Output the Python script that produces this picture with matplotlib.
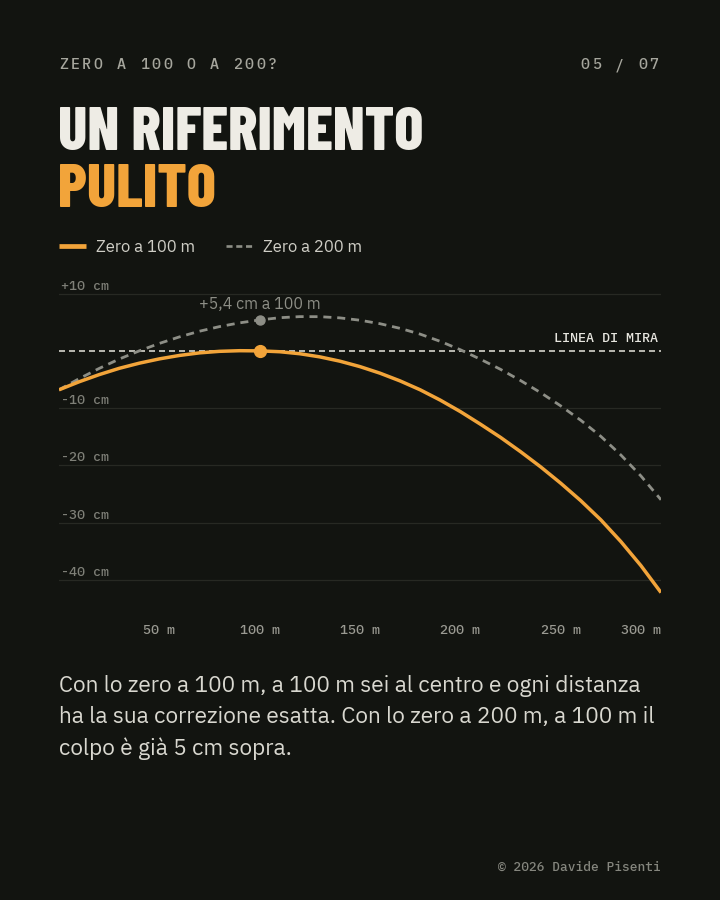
import matplotlib
matplotlib.use("Agg")
import matplotlib.pyplot as plt

# traiettorie (cm rispetto alla linea di mira)
distance_m = [0, 10, 20, 30, 40, 50, 60, 70, 80, 90, 100, 110, 120, 130, 140, 150,
              160, 170, 180, 190, 200, 210, 220, 230, 240, 250, 260, 270, 280, 290, 300]
zero_100_cm = [-6.8, -5.4, -4.15, -3.05, -2.15, -1.4, -0.8, -0.35, -0.08, 0.03, 0.0,
               -0.15, -0.5, -1.05, -1.8, -2.75, -3.9, -5.25, -6.8, -8.6, -10.6,
               -12.8, -15.1, -17.6, -20.25, -23.1, -26.15, -29.5, -33.3, -37.5, -42.2]
zero_200_cm = [-6.8, -4.86, -3.07, -1.43, 0.0, 1.3, 2.44, 3.43, 4.24, 4.89, 5.4,
               5.79, 5.98, 5.97, 5.76, 5.35, 4.74, 3.93, 2.92, 1.66, 0.2,
               -1.46, -3.22, -5.18, -7.29, -9.6, -12.11, -14.92, -18.18, -21.84, -26.0]
series_labels = ["Zero a 100 m", "Zero a 200 m"]

y_ticks = [10, -10, -20, -30, -40]
y_tick_labels = ["+10 cm", "-10 cm", "-20 cm", "-30 cm", "-40 cm"]
x_ticks = [50, 100, 150, 200, 250, 300]
x_tick_labels = ["50 m", "100 m", "150 m", "200 m", "250 m", "300 m"]

marker_x = 100
marker_label = "+5,4 cm a 100 m"
sight_label = "LINEA DI MIRA"

kicker = "ZERO A 100 O A 200?"
page = "05 / 07"
title_1 = "UN RIFERIMENTO"
title_2 = "PULITO"
body_lines = ["Con lo zero a 100 m, a 100 m sei al centro e ogni distanza",
              "ha la sua correzione esatta. Con lo zero a 200 m, a 100 m il",
              "colpo è già 5 cm sopra."]
footer = "© 2026 Davide Pisenti"

BG = "#121410"
ORANGE = "#f2a43a"
WHITE = "#eeece5"
GREY_LINE = "#8d8e86"
SIGHT = "#d5d5cc"
GRID = "#272923"
MONO = ["IBM Plex Mono", "DejaVu Sans Mono"]
SANS = ["IBM Plex Sans", "Roboto", "DejaVu Sans"]
DISPLAY = ["Barlow Condensed", "DejaVu Sans"]

W, H = 720, 900


def fx(px):
    return px / W


def fy(py):
    return 1 - py / H


fig = plt.figure(figsize=(7.2, 9), dpi=100, facecolor=BG)
renderer = fig.canvas.get_renderer()


def fit_width(txt, width_px):
    w = txt.get_window_extent(renderer).width
    txt.set_fontsize(txt.get_fontsize() * width_px / w)


def tracked(x, y, s, step, **kw):
    for i, ch in enumerate(s):
        fig.text(fx(x + i * step), fy(y), ch, ha="left", va="center", **kw)


# intestazione
tracked(59, 65, kicker, 11.6, family=MONO, weight="medium", fontsize=10.8, color="#a6a69d")
tracked(580, 65, page, 11.6, family=MONO, weight="medium", fontsize=10.8, color="#a6a69d")

t1 = fig.text(fx(58), fy(150), title_1, family=DISPLAY, weight=800, fontsize=40,
              color=WHITE, va="baseline")
fit_width(t1, 366)
fig.text(fx(58), fy(206.7), title_2, family=DISPLAY, weight=800,
         fontsize=t1.get_fontsize(), color=ORANGE, va="baseline")

# grafico
ax = fig.add_axes([fx(59), fy(600), 602 / W, (600 - 281) / H])
ax.set_facecolor("none")
ax.set_xlim(0, 300)
ax.set_ylim(-43.5, 12.2)
ax.axis("off")

for v, lab in zip(y_ticks, y_tick_labels):
    ax.axhline(v, color=GRID, lw=0.9, zorder=1)
    ax.text(1.2, v + 1.3, lab, family=MONO, weight="medium", fontsize=9.6,
            color="#7f8078", ha="left", va="center", clip_on=True)

ax.axhline(0, color=SIGHT, lw=1.2, dashes=(3.6, 2.4), zorder=2)
ax.annotate(sight_label, xy=(300, 0), xytext=(-2, 9), textcoords="offset points",
            family=MONO, weight="medium", fontsize=9.6, color="#e6e5de",
            ha="right", va="center")

l2, = ax.plot(distance_m, zero_200_cm, color=GREY_LINE, lw=2.0, dashes=(2.9, 2.1),
              zorder=3, label=series_labels[1])
l1, = ax.plot(distance_m, zero_100_cm, color=ORANGE, lw=2.5, zorder=4,
              solid_capstyle="butt", label=series_labels[0])

i100 = distance_m.index(marker_x)
ax.plot(marker_x, zero_200_cm[i100], "o", color=GREY_LINE, ms=6.5, zorder=5, clip_on=False)
ax.plot(marker_x, zero_100_cm[i100], "o", color=ORANGE, ms=8.5, zorder=6, clip_on=False)
ax.annotate(marker_label, xy=(marker_x, zero_200_cm[i100]), xytext=(0, 8),
            textcoords="offset points", family=SANS, fontsize=11.5, color="#8d8e86",
            ha="center", va="baseline")

for v, lab in zip(x_ticks, x_tick_labels):
    ha = "right" if v == x_ticks[-1] else "center"
    ax.annotate(lab, xy=(v, 0), xycoords=("data", "axes fraction"), xytext=(0, -22.3),
                textcoords="offset points", family=MONO, weight="medium", fontsize=9.6,
                color="#9a9a92", ha=ha, va="center", annotation_clip=False)

# legenda
leg = fig.legend([l1, l2], series_labels, loc="center left",
                 bbox_to_anchor=(fx(59), fy(247)), ncol=2, frameon=False,
                 borderpad=0, borderaxespad=0, handlelength=1.6, handletextpad=0.6,
                 columnspacing=1.9, prop={"family": SANS, "size": 12})
for txt in leg.get_texts():
    txt.set_color("#cfcec6")
hl = leg.get_lines()
hl[0].set_linewidth(3.4)
hl[1].set_linewidth(1.9)
hl[1].set_dashes((2.3, 1.4))

# testo
body_y = [691.7, 723.4, 755.1]
b0 = fig.text(fx(59), fy(body_y[0]), body_lines[0], family=SANS, fontsize=14.5,
              color="#d9d8d0", va="baseline")
fit_width(b0, 582)
for line, y in zip(body_lines[1:], body_y[1:]):
    fig.text(fx(59), fy(y), line, family=SANS, fontsize=b0.get_fontsize(),
             color="#d9d8d0", va="baseline")

fig.text(fx(661), fy(867), footer, family=MONO, weight="medium", fontsize=9.3,
         color="#85867e", ha="right", va="center")

fig.savefig("out.png", dpi=100, facecolor=BG)
